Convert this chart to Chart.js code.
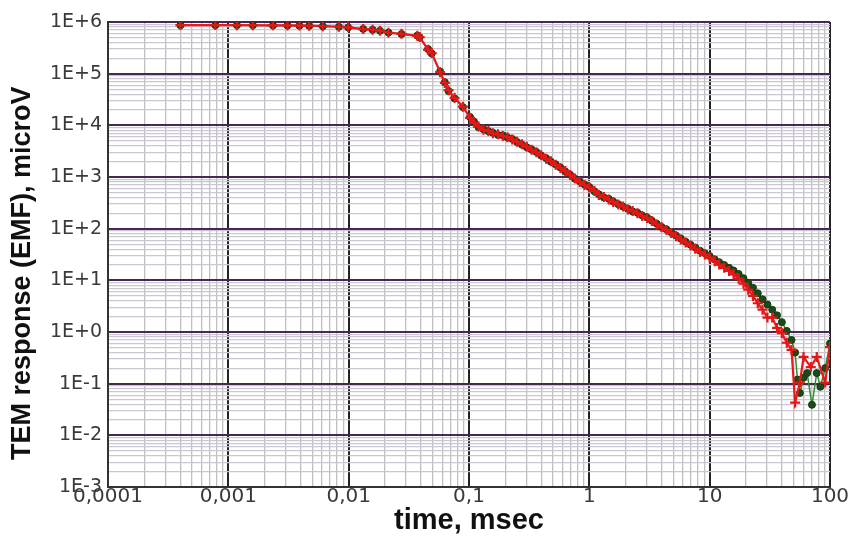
<!DOCTYPE html>
<html><head><meta charset="utf-8">
<script src="https://cdn.jsdelivr.net/npm/chart.js@4.4.1/dist/chart.umd.min.js"></script>
<style>html,body{margin:0;padding:0;background:#fff;overflow:hidden}#wrap{width:851px;height:536px}</style>
</head><body>
<div id="wrap"><canvas id="c" width="851" height="536"></canvas></div>
<script>
// ---- axes ----
const xDecades = [0.0001, 0.001, 0.01, 0.1, 1, 10, 100];
const xTickLabels = ['0,0001', '0,001', '0,01', '0,1', '1', '10', '100'];
const yDecades = [1e-3, 1e-2, 1e-1, 1, 10, 100, 1e3, 1e4, 1e5, 1e6];
const yTickLabels = ['1E-3', '1E-2', '1E-1', '1E+0', '1E+1', '1E+2', '1E+3', '1E+4', '1E+5', '1E+6'];
const xTitle = 'time, msec';
const yTitle = 'TEM response (EMF), microV';

// ---- red series (+ markers) ----
const timeRed = [
  0.0004, 0.00078, 0.00118, 0.0016, 0.00235, 0.0031, 0.0039, 0.0047, 0.0061, 0.0083,
  0.0099, 0.0132, 0.0158, 0.0182, 0.0214, 0.0275, 0.0372, 0.0389, 0.0457, 0.049,
  0.0575, 0.063, 0.0676, 0.0759, 0.089, 0.102,
  0.110, 0.120, 0.132, 0.145, 0.158, 0.174, 0.191, 0.209, 0.229, 0.251, 0.275, 0.302,
  0.331, 0.363, 0.398, 0.437, 0.479, 0.525, 0.575, 0.631, 0.692, 0.759, 0.832, 0.912,
  1.00, 1.10, 1.20, 1.32, 1.45, 1.58, 1.74, 1.91, 2.09, 2.29, 2.51, 2.75, 3.02, 3.31,
  3.63, 3.98, 4.37, 4.79, 5.25, 5.75, 6.31, 6.92, 7.59, 8.32, 9.12,
  10.0, 11.0, 12.0, 13.2, 14.5, 15.8, 17.4, 19.1, 20.9, 22.9, 25.1, 27.5, 30.2, 33.1,
  36.3, 39.8, 43.7, 47.9,
  51.3, 56.2, 60.3, 69.2, 77.6, 91.2, 100
];
const emfRed = [
  870000, 870000, 868000, 866000, 862000, 858000, 852000, 846000, 830000, 810000,
  790000, 730000, 710000, 680000, 620000, 590000, 540000, 510000, 290000, 250000,
  107000, 66000, 48000, 34000, 23000, 14000,
  11200, 9500, 8200, 7800, 7000, 6700, 6200, 5900, 5300, 4800, 4300, 3850,
  3350, 3000, 2650, 2250, 2020, 1720, 1500, 1300, 1090, 940, 800, 700,
  625, 540, 450, 410, 365, 330, 292, 270, 236, 220, 198, 176, 160, 140,
  121, 106, 94, 82, 71, 62, 54, 47, 41, 35.5, 31.5,
  27.5, 23.5, 20.2, 17.5, 15.2, 13.0, 10.8, 8.6, 6.6, 5.0, 3.6, 2.7, 1.9, 1.9,
  1.2, 0.95, 0.62, 0.45,
  0.043, 0.105, 0.33, 0.21, 0.33, 0.105, 0.51
];

// ---- green series (circle markers) ----
const timeGreen = [
  0.0004, 0.00078, 0.00118, 0.0016, 0.00235, 0.0031, 0.0039, 0.0047, 0.0061, 0.0083,
  0.0099, 0.0132, 0.0158, 0.0182, 0.0214, 0.0275, 0.0372, 0.0389, 0.0457, 0.049,
  0.0575, 0.063, 0.0676, 0.0759, 0.089, 0.102,
  0.110, 0.120, 0.132, 0.145, 0.158, 0.174, 0.191, 0.209, 0.229, 0.251, 0.275, 0.302,
  0.331, 0.363, 0.398, 0.437, 0.479, 0.525, 0.575, 0.631, 0.692, 0.759, 0.832, 0.912,
  1.00, 1.10, 1.20, 1.32, 1.45, 1.58, 1.74, 1.91, 2.09, 2.29, 2.51, 2.75, 3.02, 3.31,
  3.63, 3.98, 4.37, 4.79, 5.25, 5.75, 6.31, 6.92, 7.59, 8.32, 9.12,
  10.0, 11.0, 12.0, 13.2, 14.5, 15.8, 17.4, 19.1, 20.9, 22.9, 25.1, 27.5, 30.2, 33.1,
  36.3, 39.8, 43.7, 47.9,
  51.3, 53.7, 56.2, 60.3, 64.6, 70.8, 77.6, 83.2, 91.2, 100
];
const emfGreen = [
  865000, 868000, 866000, 864000, 860000, 856000, 850000, 842000, 828000, 806000,
  786000, 735000, 705000, 676000, 625000, 585000, 545000, 505000, 300000, 245000,
  110000, 68000, 46000, 33000, 22500, 14500,
  11800, 9200, 8400, 7700, 7200, 6500, 6400, 5800, 5450, 4750, 4250, 3750,
  3420, 3050, 2600, 2320, 1980, 1760, 1520, 1280, 1110, 925, 825, 715,
  640, 530, 462, 402, 378, 334, 298, 266, 244, 216, 203, 180, 164, 143,
  125, 108, 97, 85, 74, 64.5, 56, 49, 43, 37.5, 33.5,
  29.5, 25.5, 22.5, 19.8, 17.5, 15.5, 13.3, 11.0, 8.9, 7.2, 5.6, 4.3, 3.4, 2.7,
  2.1, 1.55, 1.05, 0.7,
  0.4, 0.12, 0.066, 0.13, 0.16, 0.039, 0.16, 0.087, 0.2, 0.6
];

const toPoints = (ts, vs) => ts.map((t, i) => ({ x: t, y: vs[i] }));

function decadeTicks(decades) {
  const out = [];
  for (let d = 0; d < decades.length - 1; d++) {
    for (let k = 1; k <= 9; k++) out.push({ value: decades[d] * k, major: k === 1 });
  }
  out.push({ value: decades[decades.length - 1], major: true });
  return out;
}
function labelFor(decades, labels, value) {
  const i = decades.findIndex(d => Math.abs(Math.log10(d) - Math.log10(value)) < 1e-6);
  return i >= 0 ? labels[i] : '';
}

new Chart(document.getElementById('c'), {
  type: 'line',
  data: {
    datasets: [
      {
        label: 'red',
        data: toPoints(timeRed, emfRed),
        order: 0,
        borderColor: 'rgb(235,25,25)',
        backgroundColor: 'rgb(235,25,25)',
        borderWidth: 2.2,
        pointStyle: 'cross',
        pointRadius: 5,
        pointBorderWidth: 2.2,
        pointBorderColor: 'rgb(228,22,22)',
        tension: 0
      },
      {
        label: 'green',
        data: toPoints(timeGreen, emfGreen),
        order: 1,
        borderColor: 'rgb(50,140,50)',
        backgroundColor: 'rgb(25,70,25)',
        borderWidth: 1.5,
        pointStyle: 'circle',
        pointRadius: 3.5,
        pointBorderWidth: 1,
        pointBorderColor: 'rgb(20,60,20)',
        pointBackgroundColor: 'rgb(25,75,25)',
        tension: 0
      }
    ]
  },
  options: {
    responsive: false,
    devicePixelRatio: 1,
    animation: false,
    layout: { padding: { top: 22, right: 21, bottom: 0, left: 0 } },
    plugins: { legend: { display: false }, tooltip: { enabled: false } },
    scales: {
      x: {
        type: 'logarithmic',
        min: 0.0001,
        max: 100,
        afterBuildTicks: s => { s.ticks = decadeTicks(xDecades); },
        afterFit: s => { s.height = 49; },
        border: { display: true, color: '#333', width: 2 },
        grid: {
          drawTicks: false,
          color: c => (c.tick && c.tick.major) ? 'rgb(35,35,35)' : 'rgb(192,192,192)',
          lineWidth: c => (c.tick && c.tick.major) ? 2 : 1.3
        },
        ticks: {
          autoSkip: false,
          maxRotation: 0,
          padding: 0,
          color: '#3a3a3a',
          font: { family: 'DejaVu Sans', size: 20, lineHeight: 1 },
          callback: (v) => labelFor(xDecades, xTickLabels, v)
        },
        title: {
          display: true,
          text: xTitle,
          color: '#111',
          font: { family: 'Liberation Sans', size: 29, weight: 'bold', lineHeight: 1.03 },
          padding: { top: 0, bottom: 0 }
        }
      },
      y: {
        type: 'logarithmic',
        min: 1e-3,
        max: 1e6,
        afterBuildTicks: s => { s.ticks = decadeTicks(yDecades); },
        afterFit: s => { s.width = 108; },
        border: { display: true, color: '#333', width: 2 },
        grid: {
          drawTicks: false,
          color: c => (c.tick && c.tick.major) ? 'rgb(70,40,85)' : 'rgb(204,198,210)',
          lineWidth: c => (c.tick && c.tick.major) ? 2 : 1.2
        },
        ticks: {
          autoSkip: false,
          padding: 6,
          color: '#3a3a3a',
          font: { family: 'DejaVu Sans', size: 19 },
          callback: (v) => labelFor(yDecades, yTickLabels, v)
        },
        title: {
          display: true,
          text: yTitle + '     ',
          color: '#111',
          font: { family: 'Liberation Sans', size: 27, weight: 'bold', lineHeight: 1 },
          padding: { top: 9, bottom: 0 }
        }
      }
    }
  }
});
</script>
</body></html>
